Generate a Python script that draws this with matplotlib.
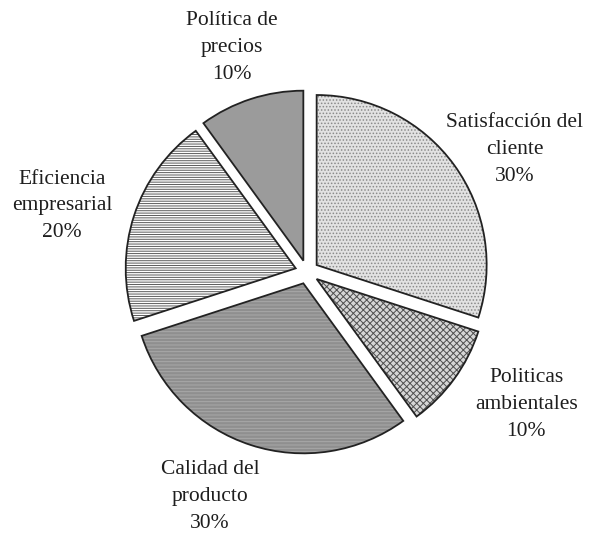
import matplotlib
matplotlib.use("Agg")
import matplotlib.pyplot as plt

plt.rcParams['font.family'] = ['Liberation Serif', 'DejaVu Serif']
plt.rcParams['hatch.linewidth'] = 0.7

# datos del grafico (orden horario desde arriba)
labels = ['Satisfacción del\ncliente', 'Politicas\nambientales', 'Calidad del\nproducto',
          'Eficiencia\nempresarial', 'Política de\nprecios']
shares = [30, 10, 30, 20, 10]

faces = ['#e2e2e2', '#d6d6d6', '#8f8f8f', '#ffffff', '#9b9b9b']
hatches = ['.....', 'xxxxx', '-----', '-------', '']
hatch_cols = ['#8a8a8a', '#4f4f4f', '#a9a9a9', '#5a5a5a', '#9b9b9b']
# posicion de cada etiqueta (en radios del pastel)
label_pos = [(1.22, 0.72), (1.29, -0.78), (-0.57, -1.32), (-1.44, 0.39), (-0.44, 1.32)]

fig = plt.figure(figsize=(5.95, 5.34), dpi=100)
ax = fig.add_axes([0, 0, 1, 1])
explode = [0.07] * len(shares)

# relleno con tramas
wedges, _ = ax.pie(shares, explode=explode, startangle=90, counterclock=False,
                   colors=faces, wedgeprops=dict(linewidth=0))
for w, h, hc in zip(wedges, hatches, hatch_cols):
    w.set_hatch(h)
    w.set_edgecolor(hc)

# contornos
ax.pie(shares, explode=explode, startangle=90, counterclock=False,
       wedgeprops=dict(facecolor='none', edgecolor='#222222', linewidth=1.3))

for lab, v, (x, y) in zip(labels, shares, label_pos):
    ax.text(x, y, f'{lab}\n{v}%', ha='center', va='center', fontsize=15.5,
            linespacing=1.55, color='#1e1e1e')

ax.set_xlim(-1.806, 1.694)
ax.set_ylim(-1.541, 1.6)
ax.set_aspect('equal')
ax.axis('off')

fig.savefig('out.png', dpi=100, facecolor='white')
